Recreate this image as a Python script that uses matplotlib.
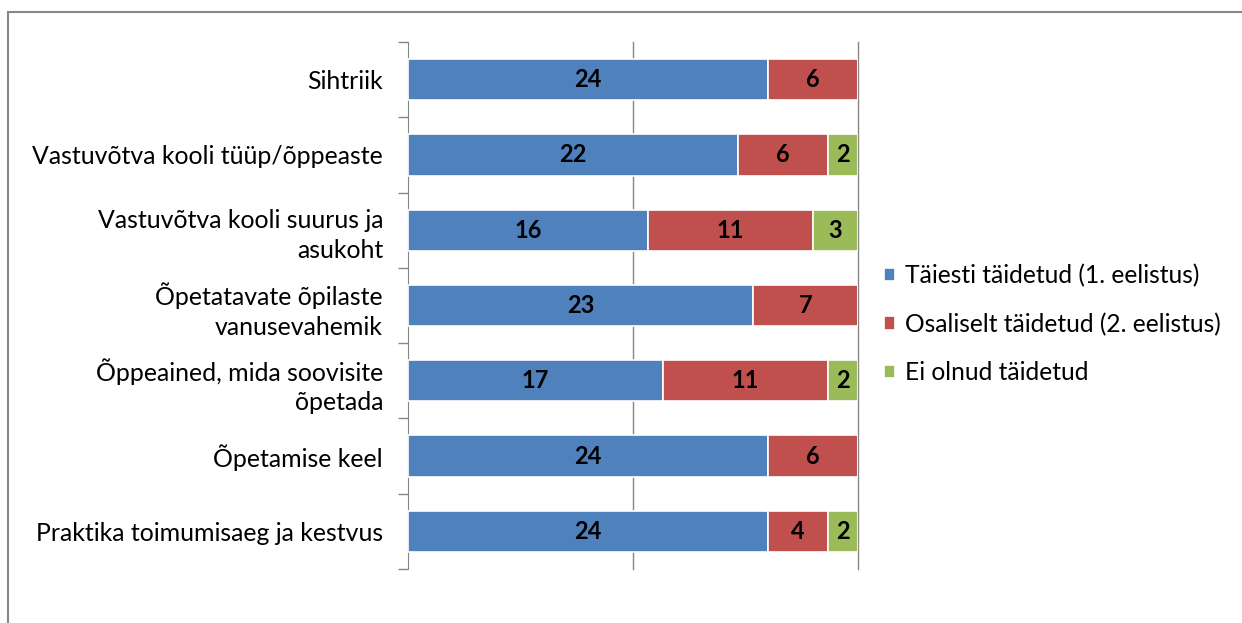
import numpy as np
import matplotlib.pyplot as plt
from matplotlib.patches import Rectangle

categories = [
    "Sihtriik",
    "Vastuvõtva kooli tüüp/õppeaste",
    "Vastuvõtva kooli suurus ja\nasukoht",
    "Õpetatavate õpilaste\nvanusevahemik",
    "Õppeained, mida soovisite\nõpetada",
    "Õpetamise keel",
    "Praktika toimumisaeg ja kestvus",
]
full = [24, 22, 16, 23, 17, 24, 24]
partial = [6, 6, 11, 7, 11, 6, 4]
none = [0, 2, 3, 0, 2, 0, 2]
series_names = ["Täiesti täidetud (1. eelistus)",
                "Osaliselt täidetud (2. eelistus)",
                "Ei olnud täidetud"]
colors = ["#4f81bd", "#c0504d", "#9bbb59"]

plt.rcParams['font.family'] = ['Lato', 'DejaVu Sans']

fig = plt.figure(figsize=(12.42, 6.23), dpi=100)
ax = fig.add_axes([408 / 1242, 1 - 569 / 623, 450 / 1242, 527 / 623])

# chart frame
fig.patches.append(Rectangle((8 / 1242, -0.1), 1.2, 1 - 12 / 623 + 0.1,
                             transform=fig.transFigure, fill=False,
                             edgecolor="#868686", linewidth=1.5))

y = np.arange(len(categories))
left = np.zeros(len(categories))
for vals, name, col in zip([full, partial, none], series_names, colors):
    vals = np.array(vals, dtype=float)
    bars = ax.barh(y, vals, left=left, height=0.55, color=col,
                   edgecolor="white", linewidth=1.2, label=name, zorder=3)
    for b, v in zip(bars, vals):
        if v > 0:
            ax.text(b.get_x() + b.get_width() / 2, b.get_y() + b.get_height() / 2,
                    f"{int(v)}", ha="center", va="center", fontsize=17,
                    fontweight="bold", color="black", zorder=4)
    left += vals

ax.set_xlim(0, 30)
ax.set_ylim(len(categories) - 0.5, -0.5)
ax.set_xticks([])
for xv in [15, 30]:
    ax.axvline(xv, color="#868686", linewidth=1, zorder=1, clip_on=False)

ax.set_yticks(y)
ax.set_yticklabels(categories, fontsize=17.9, linespacing=1.35)
ax.set_yticks(np.arange(len(categories) + 1) - 0.5, minor=True)
ax.tick_params(axis="y", which="major", length=0, pad=18)
ax.tick_params(axis="y", which="minor", length=7, color="#868686", width=1)
for s in ["top", "right", "bottom"]:
    ax.spines[s].set_visible(False)
ax.spines["left"].set_color("#868686")

handles, labels = ax.get_legend_handles_labels()
fig.legend(handles, labels, loc="center left", bbox_to_anchor=(862 / 1242, 1 - 324 / 623),
           frameon=False, fontsize=17.7, handlelength=0.45, handleheight=0.45,
           handletextpad=0.4, labelspacing=1.02)

fig.savefig("out.png", dpi=100)
